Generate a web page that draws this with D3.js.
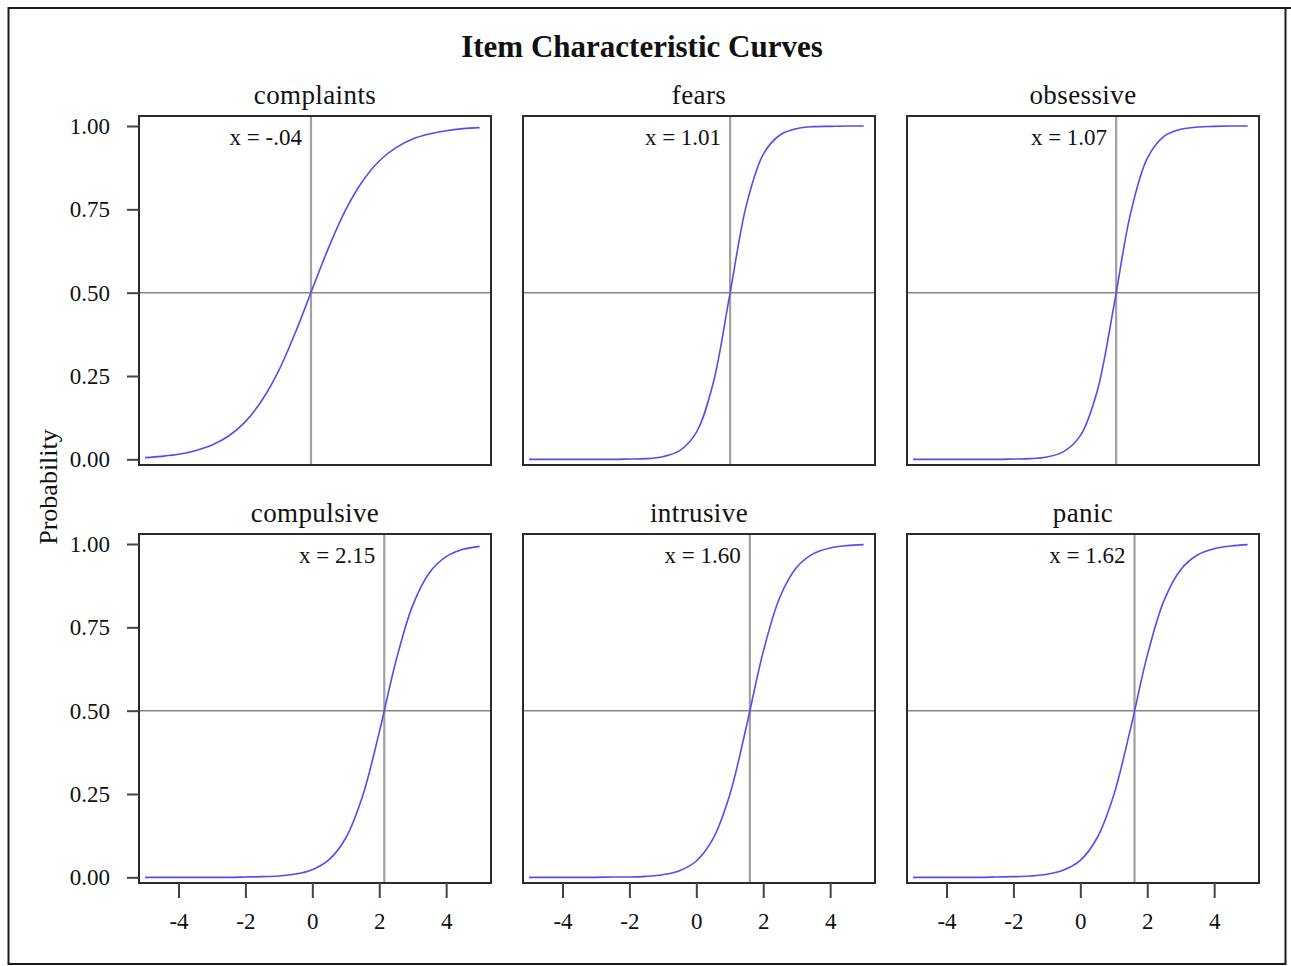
<!DOCTYPE html>
<html>
<head>
<meta charset="utf-8">
<script src="https://cdn.jsdelivr.net/npm/d3@7"></script>
<style>
  body { margin: 0; background: #fff; }
  text { font-family: "Liberation Serif", "Times New Roman", serif; fill: #111; }
</style>
</head>
<body>
<svg id="chart" width="1291" height="966"></svg>
<script>
// Latent trait grid on which each item's response probability is tabulated
const theta = [-5, -4.5, -4, -3.5, -3, -2.5, -2, -1.5, -1, -0.5, 0, 0.5, 1, 1.5, 2, 2.5, 3, 3.5, 4, 4.5, 5];

const items = ["complaints", "fears", "obsessive", "compulsive", "intrusive", "panic"];
const locations = [-0.04, 1.01, 1.07, 2.15, 1.60, 1.62];
const locationLabels = ["x = -.04", "x = 1.01", "x = 1.07", "x = 2.15", "x = 1.60", "x = 1.62"];

// Probability of endorsing each item at every theta value
const probComplaints = [0.005, 0.009, 0.015, 0.026, 0.043, 0.070, 0.113, 0.178, 0.267, 0.382, 0.511, 0.638, 0.749, 0.834, 0.895, 0.935, 0.961, 0.976, 0.986, 0.992, 0.995];
const probFears      = [0.000, 0.000, 0.000, 0.000, 0.000, 0.000, 0.001, 0.002, 0.008, 0.026, 0.081, 0.227, 0.494, 0.764, 0.915, 0.973, 0.992, 0.998, 0.999, 1.000, 1.000];
const probObsessive  = [0.000, 0.000, 0.000, 0.000, 0.000, 0.000, 0.001, 0.002, 0.007, 0.023, 0.071, 0.203, 0.458, 0.737, 0.903, 0.969, 0.990, 0.997, 0.999, 1.000, 1.000];
const probCompulsive = [0.000, 0.000, 0.000, 0.000, 0.000, 0.000, 0.001, 0.002, 0.004, 0.010, 0.023, 0.053, 0.118, 0.243, 0.435, 0.649, 0.816, 0.914, 0.962, 0.984, 0.993];
const probIntrusive  = [0.000, 0.000, 0.000, 0.000, 0.000, 0.001, 0.001, 0.003, 0.008, 0.020, 0.049, 0.116, 0.248, 0.454, 0.677, 0.841, 0.930, 0.971, 0.988, 0.995, 0.998];
const probPanic      = [0.000, 0.000, 0.000, 0.000, 0.000, 0.001, 0.002, 0.004, 0.009, 0.022, 0.051, 0.118, 0.247, 0.446, 0.665, 0.830, 0.923, 0.967, 0.986, 0.994, 0.998];

const yTickValues = [0, 0.25, 0.5, 0.75, 1];
const yTickLabels = ["0.00", "0.25", "0.50", "0.75", "1.00"];
const xTickValues = [-4, -2, 0, 2, 4];
const xTickLabels = ["-4", "-2", "0", "2", "4"];

const probabilities = [probComplaints, probFears, probObsessive, probCompulsive, probIntrusive, probPanic];

const svg = d3.select("#chart");
svg.append("rect").attr("width", 1291).attr("height", 966).attr("fill", "#fff");

// Outer border
svg.append("rect")
  .attr("x", 8.5).attr("y", 8).attr("width", 1277).attr("height", 956)
  .attr("fill", "none").attr("stroke", "#1a1a1a").attr("stroke-width", 2);
svg.append("line").attr("x1", 1285).attr("x2", 1291).attr("y1", 8).attr("y2", 8)
  .attr("stroke", "#1a1a1a").attr("stroke-width", 2);

svg.append("text")
  .attr("x", 642).attr("y", 57)
  .attr("text-anchor", "middle")
  .style("font-size", "31px").style("font-weight", "bold")
  .text("Item Characteristic Curves");

svg.append("text")
  .attr("transform", "translate(57,487) rotate(-90)")
  .attr("text-anchor", "middle")
  .style("font-size", "26px")
  .text("Probability");

const W = 352, H = 349;
const colX = [139, 523, 907];
const rowY = [116, 534];

const x = d3.scaleLinear().domain([-5.18, 5.34]).range([0, W]);
const y = d3.scaleLinear().domain([-0.017, 1.03]).range([H, 0]);

const line = d3.line()
  .x((d, i) => x(theta[i]))
  .y(d => y(d))
  .curve(d3.curveCatmullRom.alpha(0.5));

items.forEach((name, i) => {
  const col = i % 3, row = Math.floor(i / 3);
  const g = svg.append("g").attr("transform", `translate(${colX[col]},${rowY[row]})`);

  // Reference lines at P = .5 and at the item location
  g.append("line")
    .attr("x1", 0).attr("x2", W)
    .attr("y1", y(0.5)).attr("y2", y(0.5))
    .attr("stroke", "#858585").attr("stroke-width", 1.5);
  g.append("line")
    .attr("x1", x(locations[i])).attr("x2", x(locations[i]))
    .attr("y1", 0).attr("y2", H)
    .attr("stroke", "#a0a0a0").attr("stroke-width", 2.2);

  g.append("path")
    .datum(probabilities[i])
    .attr("d", line)
    .attr("fill", "none")
    .attr("stroke", "#4f4ff0")
    .attr("stroke-width", 1.6);

  g.append("rect")
    .attr("width", W).attr("height", H)
    .attr("fill", "none").attr("stroke", "#2b2b2b").attr("stroke-width", 2);

  g.append("text")
    .attr("x", W / 2).attr("y", -12)
    .attr("text-anchor", "middle")
    .style("font-size", "27px").style("letter-spacing", "0.4px")
    .text(name);

  g.append("text")
    .attr("x", x(locations[i]) - 9).attr("y", 29)
    .attr("text-anchor", "end")
    .style("font-size", "23px")
    .text(locationLabels[i]);

  if (col === 0) {
    const ax = g.append("g")
      .call(d3.axisLeft(y).tickValues(yTickValues)
        .tickFormat((d, k) => yTickLabels[k]).tickSize(12).tickPadding(17));
    ax.select(".domain").remove();
    ax.selectAll(".tick line").attr("stroke", "#444").attr("stroke-width", 2);
    ax.selectAll(".tick text")
      .attr("fill", "#111").attr("dy", "0.33em")
      .style("font-size", "23px")
      .style("font-family", "'Liberation Serif', 'Times New Roman', serif");
  }

  if (row === 1) {
    const ax = g.append("g")
      .attr("transform", `translate(0,${H})`)
      .call(d3.axisBottom(x).tickValues(xTickValues)
        .tickFormat((d, k) => xTickLabels[k]).tickSize(15));
    ax.select(".domain").remove();
    ax.selectAll(".tick line").attr("stroke", "#444").attr("stroke-width", 2);
    ax.selectAll(".tick text")
      .attr("fill", "#111").attr("y", 46).attr("dy", 0)
      .style("font-size", "23px")
      .style("font-family", "'Liberation Serif', 'Times New Roman', serif");
  }
});
</script>
</body>
</html>
